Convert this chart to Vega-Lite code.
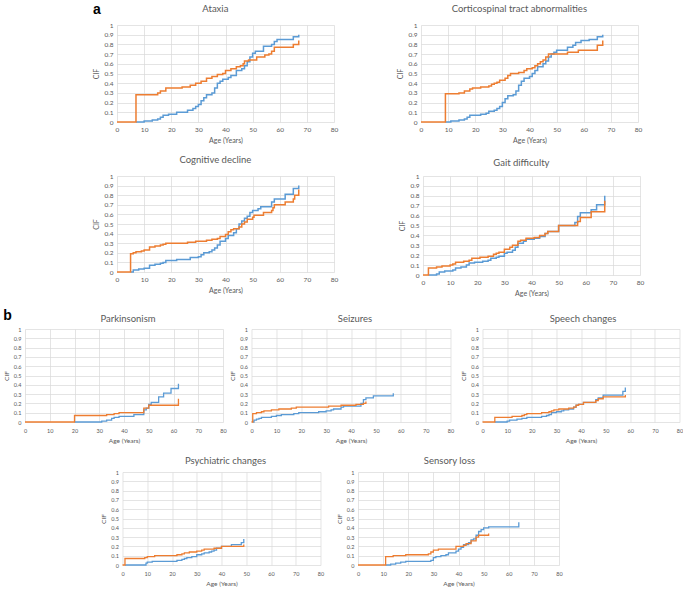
{
"$schema": "https://vega.github.io/schema/vega-lite/v6.json",
"padding": {"left": 3, "top": 2, "right": 0, "bottom": 0},
"config": {
  "font": "Lato",
  "view": {"stroke": null},
  "axis": {"grid": true, "gridColor": "#d9d9d9", "gridWidth": 0.7, "domain": false, "ticks": false, "labelColor": "#595959", "titleColor": "#595959", "titleFontWeight": "normal", "labelFlush": false, "labelOverlap": false},
  "title": {"fontSize": 9.5, "fontWeight": "normal", "color": "#595959", "anchor": "middle"}
},
"datasets": {
"ataxia": [
{"series":"Series 1","age":7,"cif":0},{"series":"Series 1","age":10,"cif":0.01},{"series":"Series 1","age":13,"cif":0.02},{"series":"Series 1","age":15,"cif":0.03},{"series":"Series 1","age":16,"cif":0.05},{"series":"Series 1","age":17,"cif":0.07},{"series":"Series 1","age":19,"cif":0.08},{"series":"Series 1","age":22,"cif":0.1},{"series":"Series 1","age":26,"cif":0.12},{"series":"Series 1","age":28,"cif":0.14},{"series":"Series 1","age":29,"cif":0.16},{"series":"Series 1","age":30,"cif":0.18},{"series":"Series 1","age":31,"cif":0.22},{"series":"Series 1","age":32,"cif":0.25},{"series":"Series 1","age":33,"cif":0.28},{"series":"Series 1","age":35,"cif":0.3},{"series":"Series 1","age":36,"cif":0.35},{"series":"Series 1","age":37,"cif":0.4},{"series":"Series 1","age":38,"cif":0.42},{"series":"Series 1","age":39,"cif":0.44},{"series":"Series 1","age":41,"cif":0.46},{"series":"Series 1","age":42,"cif":0.48},{"series":"Series 1","age":44,"cif":0.53},{"series":"Series 1","age":46,"cif":0.55},{"series":"Series 1","age":47,"cif":0.58},{"series":"Series 1","age":48,"cif":0.62},{"series":"Series 1","age":49,"cif":0.67},{"series":"Series 1","age":50,"cif":0.71},{"series":"Series 1","age":51,"cif":0.73},{"series":"Series 1","age":54,"cif":0.78},{"series":"Series 1","age":57,"cif":0.8},{"series":"Series 1","age":58,"cif":0.83},{"series":"Series 1","age":59,"cif":0.85},{"series":"Series 1","age":65,"cif":0.88},{"series":"Series 1","age":67,"cif":0.9},
{"series":"Series 2","age":0,"cif":0},{"series":"Series 2","age":7,"cif":0.28},{"series":"Series 2","age":15,"cif":0.3},{"series":"Series 2","age":16,"cif":0.32},{"series":"Series 2","age":18,"cif":0.35},{"series":"Series 2","age":24,"cif":0.36},{"series":"Series 2","age":27,"cif":0.38},{"series":"Series 2","age":29,"cif":0.4},{"series":"Series 2","age":31,"cif":0.42},{"series":"Series 2","age":33,"cif":0.45},{"series":"Series 2","age":35,"cif":0.47},{"series":"Series 2","age":37,"cif":0.49},{"series":"Series 2","age":39,"cif":0.5},{"series":"Series 2","age":40,"cif":0.53},{"series":"Series 2","age":42,"cif":0.55},{"series":"Series 2","age":44,"cif":0.57},{"series":"Series 2","age":45.5,"cif":0.58},{"series":"Series 2","age":46.5,"cif":0.6},{"series":"Series 2","age":47,"cif":0.63},{"series":"Series 2","age":48.5,"cif":0.64},{"series":"Series 2","age":51.5,"cif":0.67},{"series":"Series 2","age":54.5,"cif":0.69},{"series":"Series 2","age":56,"cif":0.7},{"series":"Series 2","age":57,"cif":0.73},{"series":"Series 2","age":58,"cif":0.77},{"series":"Series 2","age":65,"cif":0.8},{"series":"Series 2","age":67,"cif":0.84}
],
"cortico": [
{"series":"Series 1","age":9,"cif":0},{"series":"Series 1","age":11,"cif":0.01},{"series":"Series 1","age":14,"cif":0.02},{"series":"Series 1","age":16,"cif":0.03},{"series":"Series 1","age":17,"cif":0.05},{"series":"Series 1","age":18,"cif":0.07},{"series":"Series 1","age":22,"cif":0.08},{"series":"Series 1","age":24,"cif":0.09},{"series":"Series 1","age":25,"cif":0.11},{"series":"Series 1","age":27,"cif":0.12},{"series":"Series 1","age":28,"cif":0.14},{"series":"Series 1","age":29,"cif":0.16},{"series":"Series 1","age":30,"cif":0.2},{"series":"Series 1","age":31,"cif":0.24},{"series":"Series 1","age":32,"cif":0.27},{"series":"Series 1","age":34,"cif":0.28},{"series":"Series 1","age":35,"cif":0.32},{"series":"Series 1","age":36,"cif":0.38},{"series":"Series 1","age":37,"cif":0.42},{"series":"Series 1","age":38,"cif":0.45},{"series":"Series 1","age":40,"cif":0.47},{"series":"Series 1","age":41,"cif":0.5},{"series":"Series 1","age":42,"cif":0.53},{"series":"Series 1","age":43,"cif":0.57},{"series":"Series 1","age":45,"cif":0.6},{"series":"Series 1","age":46,"cif":0.63},{"series":"Series 1","age":47,"cif":0.67},{"series":"Series 1","age":48,"cif":0.7},{"series":"Series 1","age":49,"cif":0.72},{"series":"Series 1","age":50,"cif":0.74},{"series":"Series 1","age":54,"cif":0.77},{"series":"Series 1","age":56,"cif":0.79},{"series":"Series 1","age":57,"cif":0.82},{"series":"Series 1","age":59,"cif":0.84},{"series":"Series 1","age":62,"cif":0.85},{"series":"Series 1","age":65,"cif":0.88},{"series":"Series 1","age":67,"cif":0.9},
{"series":"Series 2","age":0,"cif":0},{"series":"Series 2","age":9,"cif":0.29},{"series":"Series 2","age":14,"cif":0.3},{"series":"Series 2","age":16,"cif":0.32},{"series":"Series 2","age":18,"cif":0.34},{"series":"Series 2","age":19,"cif":0.35},{"series":"Series 2","age":22,"cif":0.36},{"series":"Series 2","age":25,"cif":0.37},{"series":"Series 2","age":26,"cif":0.39},{"series":"Series 2","age":27,"cif":0.4},{"series":"Series 2","age":28,"cif":0.41},{"series":"Series 2","age":29,"cif":0.43},{"series":"Series 2","age":31,"cif":0.45},{"series":"Series 2","age":32,"cif":0.48},{"series":"Series 2","age":33,"cif":0.5},{"series":"Series 2","age":36,"cif":0.51},{"series":"Series 2","age":38,"cif":0.53},{"series":"Series 2","age":39,"cif":0.55},{"series":"Series 2","age":41,"cif":0.56},{"series":"Series 2","age":42,"cif":0.58},{"series":"Series 2","age":43,"cif":0.6},{"series":"Series 2","age":44,"cif":0.62},{"series":"Series 2","age":45,"cif":0.64},{"series":"Series 2","age":46,"cif":0.67},{"series":"Series 2","age":47,"cif":0.7},{"series":"Series 2","age":54,"cif":0.72},{"series":"Series 2","age":58,"cif":0.74},{"series":"Series 2","age":65,"cif":0.79},{"series":"Series 2","age":67,"cif":0.84}
],
"cognitive": [
{"series":"Series 1","age":5,"cif":0},{"series":"Series 1","age":6,"cif":0.02},{"series":"Series 1","age":8,"cif":0.03},{"series":"Series 1","age":10,"cif":0.04},{"series":"Series 1","age":12,"cif":0.07},{"series":"Series 1","age":14,"cif":0.08},{"series":"Series 1","age":16,"cif":0.09},{"series":"Series 1","age":17,"cif":0.1},{"series":"Series 1","age":18,"cif":0.12},{"series":"Series 1","age":22,"cif":0.13},{"series":"Series 1","age":27,"cif":0.15},{"series":"Series 1","age":30,"cif":0.16},{"series":"Series 1","age":31,"cif":0.18},{"series":"Series 1","age":32,"cif":0.2},{"series":"Series 1","age":34,"cif":0.21},{"series":"Series 1","age":35,"cif":0.23},{"series":"Series 1","age":36,"cif":0.25},{"series":"Series 1","age":37,"cif":0.28},{"series":"Series 1","age":38,"cif":0.32},{"series":"Series 1","age":40,"cif":0.35},{"series":"Series 1","age":41,"cif":0.38},{"series":"Series 1","age":43,"cif":0.41},{"series":"Series 1","age":44,"cif":0.45},{"series":"Series 1","age":45,"cif":0.5},{"series":"Series 1","age":46,"cif":0.53},{"series":"Series 1","age":47,"cif":0.56},{"series":"Series 1","age":48,"cif":0.58},{"series":"Series 1","age":49,"cif":0.62},{"series":"Series 1","age":50,"cif":0.64},{"series":"Series 1","age":52,"cif":0.66},{"series":"Series 1","age":53,"cif":0.68},{"series":"Series 1","age":57,"cif":0.73},{"series":"Series 1","age":58,"cif":0.76},{"series":"Series 1","age":62,"cif":0.81},{"series":"Series 1","age":65,"cif":0.87},{"series":"Series 1","age":67,"cif":0.9},
{"series":"Series 2","age":0,"cif":0},{"series":"Series 2","age":5,"cif":0.19},{"series":"Series 2","age":6,"cif":0.2},{"series":"Series 2","age":7,"cif":0.21},{"series":"Series 2","age":9,"cif":0.22},{"series":"Series 2","age":10,"cif":0.23},{"series":"Series 2","age":12,"cif":0.26},{"series":"Series 2","age":14,"cif":0.27},{"series":"Series 2","age":16,"cif":0.28},{"series":"Series 2","age":17,"cif":0.29},{"series":"Series 2","age":18,"cif":0.3},{"series":"Series 2","age":26,"cif":0.31},{"series":"Series 2","age":29,"cif":0.32},{"series":"Series 2","age":33,"cif":0.33},{"series":"Series 2","age":35,"cif":0.34},{"series":"Series 2","age":37,"cif":0.35},{"series":"Series 2","age":38,"cif":0.37},{"series":"Series 2","age":40,"cif":0.39},{"series":"Series 2","age":41,"cif":0.42},{"series":"Series 2","age":42,"cif":0.44},{"series":"Series 2","age":43,"cif":0.45},{"series":"Series 2","age":45,"cif":0.47},{"series":"Series 2","age":46,"cif":0.5},{"series":"Series 2","age":47,"cif":0.52},{"series":"Series 2","age":48,"cif":0.55},{"series":"Series 2","age":50,"cif":0.57},{"series":"Series 2","age":50.5,"cif":0.59},{"series":"Series 2","age":54,"cif":0.62},{"series":"Series 2","age":57,"cif":0.64},{"series":"Series 2","age":57.5,"cif":0.67},{"series":"Series 2","age":58,"cif":0.7},{"series":"Series 2","age":62,"cif":0.73},{"series":"Series 2","age":65,"cif":0.76},{"series":"Series 2","age":65.5,"cif":0.8},{"series":"Series 2","age":67,"cif":0.86}
],
"gait": [
{"series":"Series 1","age":2,"cif":0},{"series":"Series 1","age":5,"cif":0.01},{"series":"Series 1","age":6,"cif":0.03},{"series":"Series 1","age":8,"cif":0.04},{"series":"Series 1","age":11,"cif":0.05},{"series":"Series 1","age":12,"cif":0.07},{"series":"Series 1","age":14,"cif":0.08},{"series":"Series 1","age":16,"cif":0.1},{"series":"Series 1","age":17,"cif":0.12},{"series":"Series 1","age":19,"cif":0.13},{"series":"Series 1","age":22,"cif":0.14},{"series":"Series 1","age":24,"cif":0.15},{"series":"Series 1","age":25,"cif":0.17},{"series":"Series 1","age":27,"cif":0.18},{"series":"Series 1","age":28,"cif":0.19},{"series":"Series 1","age":30,"cif":0.22},{"series":"Series 1","age":31,"cif":0.23},{"series":"Series 1","age":33,"cif":0.25},{"series":"Series 1","age":34,"cif":0.28},{"series":"Series 1","age":35,"cif":0.32},{"series":"Series 1","age":37,"cif":0.34},{"series":"Series 1","age":38,"cif":0.36},{"series":"Series 1","age":41,"cif":0.37},{"series":"Series 1","age":43,"cif":0.39},{"series":"Series 1","age":45,"cif":0.42},{"series":"Series 1","age":46,"cif":0.44},{"series":"Series 1","age":50,"cif":0.5},{"series":"Series 1","age":56,"cif":0.53},{"series":"Series 1","age":57,"cif":0.59},{"series":"Series 1","age":58,"cif":0.63},{"series":"Series 1","age":62,"cif":0.66},{"series":"Series 1","age":64,"cif":0.71},{"series":"Series 1","age":67,"cif":0.8},
{"series":"Series 2","age":0,"cif":0},{"series":"Series 2","age":2,"cif":0.07},{"series":"Series 2","age":5,"cif":0.08},{"series":"Series 2","age":7,"cif":0.09},{"series":"Series 2","age":10,"cif":0.1},{"series":"Series 2","age":11,"cif":0.11},{"series":"Series 2","age":12,"cif":0.13},{"series":"Series 2","age":15,"cif":0.14},{"series":"Series 2","age":17,"cif":0.15},{"series":"Series 2","age":18,"cif":0.17},{"series":"Series 2","age":21,"cif":0.18},{"series":"Series 2","age":24,"cif":0.19},{"series":"Series 2","age":26,"cif":0.21},{"series":"Series 2","age":27,"cif":0.22},{"series":"Series 2","age":28,"cif":0.23},{"series":"Series 2","age":30,"cif":0.26},{"series":"Series 2","age":32,"cif":0.28},{"series":"Series 2","age":33,"cif":0.3},{"series":"Series 2","age":35,"cif":0.34},{"series":"Series 2","age":36,"cif":0.35},{"series":"Series 2","age":38,"cif":0.37},{"series":"Series 2","age":41,"cif":0.38},{"series":"Series 2","age":43,"cif":0.4},{"series":"Series 2","age":45,"cif":0.42},{"series":"Series 2","age":46,"cif":0.44},{"series":"Series 2","age":50,"cif":0.5},{"series":"Series 2","age":57,"cif":0.54},{"series":"Series 2","age":58,"cif":0.58},{"series":"Series 2","age":62,"cif":0.64},{"series":"Series 2","age":67,"cif":0.75}
],
"parkinsonism": [
{"series":"Series 1","age":20,"cif":0},{"series":"Series 1","age":31,"cif":0.01},{"series":"Series 1","age":33,"cif":0.02},{"series":"Series 1","age":35,"cif":0.04},{"series":"Series 1","age":36,"cif":0.05},{"series":"Series 1","age":38,"cif":0.06},{"series":"Series 1","age":44,"cif":0.08},{"series":"Series 1","age":48,"cif":0.13},{"series":"Series 1","age":49,"cif":0.15},{"series":"Series 1","age":50,"cif":0.19},{"series":"Series 1","age":51,"cif":0.21},{"series":"Series 1","age":54,"cif":0.27},{"series":"Series 1","age":56,"cif":0.31},{"series":"Series 1","age":59,"cif":0.36},{"series":"Series 1","age":62,"cif":0.41},
{"series":"Series 2","age":0,"cif":0},{"series":"Series 2","age":20,"cif":0.07},{"series":"Series 2","age":33,"cif":0.08},{"series":"Series 2","age":36,"cif":0.09},{"series":"Series 2","age":38,"cif":0.1},{"series":"Series 2","age":48,"cif":0.15},{"series":"Series 2","age":50,"cif":0.18},{"series":"Series 2","age":62,"cif":0.25}
],
"seizures": [
{"series":"Series 1","age":0.5,"cif":0},{"series":"Series 1","age":1,"cif":0.02},{"series":"Series 1","age":2,"cif":0.03},{"series":"Series 1","age":3,"cif":0.04},{"series":"Series 1","age":4,"cif":0.05},{"series":"Series 1","age":8,"cif":0.06},{"series":"Series 1","age":10,"cif":0.07},{"series":"Series 1","age":12,"cif":0.08},{"series":"Series 1","age":17,"cif":0.09},{"series":"Series 1","age":19,"cif":0.1},{"series":"Series 1","age":27,"cif":0.11},{"series":"Series 1","age":30,"cif":0.12},{"series":"Series 1","age":32,"cif":0.13},{"series":"Series 1","age":33,"cif":0.14},{"series":"Series 1","age":36,"cif":0.16},{"series":"Series 1","age":37,"cif":0.17},{"series":"Series 1","age":44,"cif":0.2},{"series":"Series 1","age":45,"cif":0.24},{"series":"Series 1","age":46,"cif":0.26},{"series":"Series 1","age":49,"cif":0.28},{"series":"Series 1","age":57,"cif":0.31},
{"series":"Series 2","age":0,"cif":0},{"series":"Series 2","age":0.5,"cif":0.09},{"series":"Series 2","age":2,"cif":0.1},{"series":"Series 2","age":4,"cif":0.11},{"series":"Series 2","age":5,"cif":0.12},{"series":"Series 2","age":8,"cif":0.13},{"series":"Series 2","age":11,"cif":0.14},{"series":"Series 2","age":16,"cif":0.15},{"series":"Series 2","age":18,"cif":0.16},{"series":"Series 2","age":31,"cif":0.17},{"series":"Series 2","age":36,"cif":0.18},{"series":"Series 2","age":42,"cif":0.19},{"series":"Series 2","age":45,"cif":0.2},{"series":"Series 2","age":46,"cif":0.22}
],
"speech": [
{"series":"Series 1","age":5,"cif":0},{"series":"Series 1","age":10,"cif":0.01},{"series":"Series 1","age":11,"cif":0.02},{"series":"Series 1","age":14,"cif":0.03},{"series":"Series 1","age":16,"cif":0.04},{"series":"Series 1","age":18,"cif":0.05},{"series":"Series 1","age":24,"cif":0.06},{"series":"Series 1","age":26,"cif":0.07},{"series":"Series 1","age":27,"cif":0.08},{"series":"Series 1","age":28,"cif":0.1},{"series":"Series 1","age":30,"cif":0.11},{"series":"Series 1","age":32,"cif":0.12},{"series":"Series 1","age":33,"cif":0.13},{"series":"Series 1","age":35,"cif":0.14},{"series":"Series 1","age":37,"cif":0.16},{"series":"Series 1","age":38,"cif":0.18},{"series":"Series 1","age":39,"cif":0.19},{"series":"Series 1","age":41,"cif":0.21},{"series":"Series 1","age":46,"cif":0.24},{"series":"Series 1","age":47,"cif":0.26},{"series":"Series 1","age":49,"cif":0.29},{"series":"Series 1","age":57,"cif":0.33},{"series":"Series 1","age":58,"cif":0.37},
{"series":"Series 2","age":0,"cif":0},{"series":"Series 2","age":5,"cif":0.05},{"series":"Series 2","age":12,"cif":0.06},{"series":"Series 2","age":16,"cif":0.07},{"series":"Series 2","age":17,"cif":0.08},{"series":"Series 2","age":18,"cif":0.09},{"series":"Series 2","age":24,"cif":0.1},{"series":"Series 2","age":27,"cif":0.11},{"series":"Series 2","age":28,"cif":0.12},{"series":"Series 2","age":29,"cif":0.13},{"series":"Series 2","age":31,"cif":0.14},{"series":"Series 2","age":35,"cif":0.15},{"series":"Series 2","age":37,"cif":0.16},{"series":"Series 2","age":38,"cif":0.18},{"series":"Series 2","age":39,"cif":0.19},{"series":"Series 2","age":41,"cif":0.21},{"series":"Series 2","age":46,"cif":0.23},{"series":"Series 2","age":47,"cif":0.25},{"series":"Series 2","age":49,"cif":0.27},{"series":"Series 2","age":58,"cif":0.29}
],
"psychiatric": [
{"series":"Series 1","age":1,"cif":0},{"series":"Series 1","age":9.5,"cif":0.02},{"series":"Series 1","age":10,"cif":0.03},{"series":"Series 1","age":12,"cif":0.04},{"series":"Series 1","age":22,"cif":0.05},{"series":"Series 1","age":24,"cif":0.06},{"series":"Series 1","age":25,"cif":0.07},{"series":"Series 1","age":26,"cif":0.08},{"series":"Series 1","age":28,"cif":0.09},{"series":"Series 1","age":30,"cif":0.11},{"series":"Series 1","age":32,"cif":0.12},{"series":"Series 1","age":33,"cif":0.13},{"series":"Series 1","age":35,"cif":0.14},{"series":"Series 1","age":36,"cif":0.15},{"series":"Series 1","age":37,"cif":0.16},{"series":"Series 1","age":38,"cif":0.18},{"series":"Series 1","age":40,"cif":0.2},{"series":"Series 1","age":44,"cif":0.22},{"series":"Series 1","age":48,"cif":0.24},{"series":"Series 1","age":49,"cif":0.28},
{"series":"Series 2","age":0,"cif":0},{"series":"Series 2","age":1,"cif":0.07},{"series":"Series 2","age":9,"cif":0.08},{"series":"Series 2","age":10,"cif":0.09},{"series":"Series 2","age":13,"cif":0.1},{"series":"Series 2","age":22,"cif":0.11},{"series":"Series 2","age":24,"cif":0.12},{"series":"Series 2","age":25,"cif":0.13},{"series":"Series 2","age":27,"cif":0.14},{"series":"Series 2","age":30,"cif":0.15},{"series":"Series 2","age":32,"cif":0.16},{"series":"Series 2","age":33,"cif":0.17},{"series":"Series 2","age":37,"cif":0.18},{"series":"Series 2","age":40,"cif":0.2},{"series":"Series 2","age":49,"cif":0.22}
],
"sensory": [
{"series":"Series 1","age":11,"cif":0},{"series":"Series 1","age":13,"cif":0.01},{"series":"Series 1","age":15,"cif":0.02},{"series":"Series 1","age":17,"cif":0.03},{"series":"Series 1","age":19,"cif":0.04},{"series":"Series 1","age":29,"cif":0.05},{"series":"Series 1","age":30,"cif":0.08},{"series":"Series 1","age":31,"cif":0.09},{"series":"Series 1","age":33,"cif":0.1},{"series":"Series 1","age":35,"cif":0.11},{"series":"Series 1","age":36,"cif":0.13},{"series":"Series 1","age":39,"cif":0.15},{"series":"Series 1","age":40,"cif":0.17},{"series":"Series 1","age":41,"cif":0.19},{"series":"Series 1","age":42,"cif":0.22},{"series":"Series 1","age":44,"cif":0.24},{"series":"Series 1","age":45,"cif":0.27},{"series":"Series 1","age":46,"cif":0.28},{"series":"Series 1","age":47,"cif":0.32},{"series":"Series 1","age":48,"cif":0.36},{"series":"Series 1","age":49,"cif":0.38},{"series":"Series 1","age":50,"cif":0.4},{"series":"Series 1","age":52,"cif":0.41},{"series":"Series 1","age":64,"cif":0.46},
{"series":"Series 2","age":0,"cif":0},{"series":"Series 2","age":11,"cif":0.09},{"series":"Series 2","age":14,"cif":0.1},{"series":"Series 2","age":19,"cif":0.11},{"series":"Series 2","age":28,"cif":0.12},{"series":"Series 2","age":29,"cif":0.14},{"series":"Series 2","age":30,"cif":0.16},{"series":"Series 2","age":32,"cif":0.17},{"series":"Series 2","age":39,"cif":0.2},{"series":"Series 2","age":42,"cif":0.21},{"series":"Series 2","age":43,"cif":0.23},{"series":"Series 2","age":45,"cif":0.26},{"series":"Series 2","age":47,"cif":0.3},{"series":"Series 2","age":48,"cif":0.32},{"series":"Series 2","age":52,"cif":0.34}
]
},
"spacing": 12,
"vconcat": [
{
 "spacing": 0,
 "hconcat": [
  {"width": 67, "height": 1, "data": {"values": []}, "mark": "point"},
  {
   "spacing": 11,
   "vconcat": [
    {
     "title": {"text": "a", "anchor": "start", "font": "Liberation Sans", "fontSize": 14, "fontWeight": "bold", "color": "#000000", "offset": 0, "dy": 13},
     "spacing": 58,
     "hconcat": [
      {"title": {"text": "Ataxia", "offset": 9, "frame": "bounds"}, "width": 217, "height": 97, "data": {"name": "ataxia"},
       "mark": {"type": "line", "interpolate": "step-after", "strokeWidth": 1.5},
       "encoding": {
        "x": {"field": "age", "type": "quantitative", "scale": {"domain": [0, 80]}, "axis": {"title": "Age (Years)", "values": [0,10,20,30,40,50,60,70,80], "labelFontSize": 6.5, "titleFontSize": 7, "labelPadding": 4.5, "titlePadding": 3}},
        "y": {"field": "cif", "type": "quantitative", "scale": {"domain": [0, 1]}, "axis": {"title": "CIF", "values": [0,0.1,0.2,0.3,0.4,0.5,0.6,0.7,0.8,0.9,1], "format": ".1~f", "labelFontSize": 6.5, "titleFontSize": 7, "labelPadding": 4, "titlePadding": 4}},
        "color": {"field": "series", "type": "nominal", "scale": {"domain": ["Series 1", "Series 2"], "range": ["#5B9BD5", "#ED7D31"]}, "legend": null}
       }},
      {"title": {"text": "Corticospinal tract abnormalities", "offset": 9, "frame": "bounds"}, "width": 217, "height": 97, "data": {"name": "cortico"},
       "mark": {"type": "line", "interpolate": "step-after", "strokeWidth": 1.5},
       "encoding": {
        "x": {"field": "age", "type": "quantitative", "scale": {"domain": [0, 80]}, "axis": {"title": "Age (Years)", "values": [0,10,20,30,40,50,60,70,80], "labelFontSize": 6.5, "titleFontSize": 7, "labelPadding": 4.5, "titlePadding": 3}},
        "y": {"field": "cif", "type": "quantitative", "scale": {"domain": [0, 1]}, "axis": {"title": "CIF", "values": [0,0.1,0.2,0.3,0.4,0.5,0.6,0.7,0.8,0.9,1], "format": ".1~f", "labelFontSize": 6.5, "titleFontSize": 7, "labelPadding": 4, "titlePadding": 4}},
        "color": {"field": "series", "type": "nominal", "scale": {"domain": ["Series 1", "Series 2"], "range": ["#5B9BD5", "#ED7D31"]}, "legend": null}
       }}
     ]
    },
    {
     "spacing": 60,
     "hconcat": [
      {"title": {"text": "Cognitive decline", "offset": 9, "frame": "bounds"}, "width": 217, "height": 96, "data": {"name": "cognitive"},
       "mark": {"type": "line", "interpolate": "step-after", "strokeWidth": 1.5},
       "encoding": {
        "x": {"field": "age", "type": "quantitative", "scale": {"domain": [0, 80]}, "axis": {"title": "Age (Years)", "values": [0,10,20,30,40,50,60,70,80], "labelFontSize": 6.5, "titleFontSize": 7, "labelPadding": 4.5, "titlePadding": 3}},
        "y": {"field": "cif", "type": "quantitative", "scale": {"domain": [0, 1]}, "axis": {"title": "CIF", "values": [0,0.1,0.2,0.3,0.4,0.5,0.6,0.7,0.8,0.9,1], "format": ".1~f", "labelFontSize": 6.5, "titleFontSize": 7, "labelPadding": 4, "titlePadding": 4}},
        "color": {"field": "series", "type": "nominal", "scale": {"domain": ["Series 1", "Series 2"], "range": ["#5B9BD5", "#ED7D31"]}, "legend": null}
       }},
      {"title": {"text": "Gait difficulty", "offset": 6, "frame": "bounds"}, "width": 217, "height": 99, "data": {"name": "gait"},
       "mark": {"type": "line", "interpolate": "step-after", "strokeWidth": 1.5},
       "encoding": {
        "x": {"field": "age", "type": "quantitative", "scale": {"domain": [0, 80]}, "axis": {"title": "Age (Years)", "values": [0,10,20,30,40,50,60,70,80], "labelFontSize": 6.5, "titleFontSize": 7, "labelPadding": 4.5, "titlePadding": 3}},
        "y": {"field": "cif", "type": "quantitative", "scale": {"domain": [0, 1]}, "axis": {"title": "CIF", "values": [0,0.1,0.2,0.3,0.4,0.5,0.6,0.7,0.8,0.9,1], "format": ".1~f", "labelFontSize": 6.5, "titleFontSize": 7, "labelPadding": 4, "titlePadding": 4}},
        "color": {"field": "series", "type": "nominal", "scale": {"domain": ["Series 1", "Series 2"], "range": ["#5B9BD5", "#ED7D31"]}, "legend": null}
       }}
     ]
    }
   ]
  }
 ]
},
{
 "spacing": 11,
 "vconcat": [
  {
   "title": {"text": "b", "anchor": "start", "font": "Liberation Sans", "fontSize": 14, "fontWeight": "bold", "color": "#000000", "offset": 0, "dy": 9},
   "spacing": 6.5,
   "hconcat": [
    {
     "spacing": 2.5,
     "hconcat": [
      {"title": {"text": "Parkinsonism", "offset": 4, "dx": 4}, "width": 198, "height": 93, "data": {"name": "parkinsonism"},
       "mark": {"type": "line", "interpolate": "step-after", "strokeWidth": 1.3},
       "encoding": {
        "x": {"field": "age", "type": "quantitative", "scale": {"domain": [0, 80]}, "axis": {"title": "Age (Years)", "values": [0,10,20,30,40,50,60,70,80], "labelFontSize": 5.5, "titleFontSize": 6.5, "labelPadding": 6, "titlePadding": 4}},
        "y": {"field": "cif", "type": "quantitative", "scale": {"domain": [0, 1]}, "axis": {"title": "CIF", "values": [0,0.1,0.2,0.3,0.4,0.5,0.6,0.7,0.8,0.9,1], "format": ".1~f", "labelFontSize": 5.5, "titleFontSize": 6.5, "labelPadding": 4, "titlePadding": 4}},
        "color": {"field": "series", "type": "nominal", "scale": {"domain": ["Series 1", "Series 2"], "range": ["#5B9BD5", "#ED7D31"]}, "legend": null}
       }},
      {"title": {"text": "Seizures", "offset": 4, "dx": 4}, "width": 199, "height": 93, "data": {"name": "seizures"},
       "mark": {"type": "line", "interpolate": "step-after", "strokeWidth": 1.3},
       "encoding": {
        "x": {"field": "age", "type": "quantitative", "scale": {"domain": [0, 80]}, "axis": {"title": "Age (Years)", "values": [0,10,20,30,40,50,60,70,80], "labelFontSize": 5.5, "titleFontSize": 6.5, "labelPadding": 6, "titlePadding": 4}},
        "y": {"field": "cif", "type": "quantitative", "scale": {"domain": [0, 1]}, "axis": {"title": "CIF", "values": [0,0.1,0.2,0.3,0.4,0.5,0.6,0.7,0.8,0.9,1], "format": ".1~f", "labelFontSize": 5.5, "titleFontSize": 6.5, "labelPadding": 4, "titlePadding": 4}},
        "color": {"field": "series", "type": "nominal", "scale": {"domain": ["Series 1", "Series 2"], "range": ["#5B9BD5", "#ED7D31"]}, "legend": null}
       }}
     ]
    },
    {"title": {"text": "Speech changes", "offset": 4, "dx": 2}, "width": 197, "height": 93, "data": {"name": "speech"},
     "mark": {"type": "line", "interpolate": "step-after", "strokeWidth": 1.3},
     "encoding": {
      "x": {"field": "age", "type": "quantitative", "scale": {"domain": [0, 80]}, "axis": {"title": "Age (Years)", "values": [0,10,20,30,40,50,60,70,80], "labelFontSize": 5.5, "titleFontSize": 6.5, "labelPadding": 6, "titlePadding": 4}},
      "y": {"field": "cif", "type": "quantitative", "scale": {"domain": [0, 1]}, "axis": {"title": "CIF", "values": [0,0.1,0.2,0.3,0.4,0.5,0.6,0.7,0.8,0.9,1], "format": ".1~f", "labelFontSize": 5.5, "titleFontSize": 6.5, "labelPadding": 4, "titlePadding": 4}},
      "color": {"field": "series", "type": "nominal", "scale": {"domain": ["Series 1", "Series 2"], "range": ["#5B9BD5", "#ED7D31"]}, "legend": null}
     }}
   ]
  },
  {
   "spacing": 11.5,
   "hconcat": [
    {"width": 63.5, "height": 1, "data": {"values": []}, "mark": "point"},
    {"title": {"text": "Psychiatric changes", "offset": 5, "dx": 4}, "width": 198, "height": 93, "data": {"name": "psychiatric"},
     "mark": {"type": "line", "interpolate": "step-after", "strokeWidth": 1.3},
     "encoding": {
      "x": {"field": "age", "type": "quantitative", "scale": {"domain": [0, 80]}, "axis": {"title": "Age (Years)", "values": [0,10,20,30,40,50,60,70,80], "labelFontSize": 5.5, "titleFontSize": 6.5, "labelPadding": 6, "titlePadding": 4}},
      "y": {"field": "cif", "type": "quantitative", "scale": {"domain": [0, 1]}, "axis": {"title": "CIF", "values": [0,0.1,0.2,0.3,0.4,0.5,0.6,0.7,0.8,0.9,1], "format": ".1~f", "labelFontSize": 5.5, "titleFontSize": 6.5, "labelPadding": 4, "titlePadding": 4}},
      "color": {"field": "series", "type": "nominal", "scale": {"domain": ["Series 1", "Series 2"], "range": ["#5B9BD5", "#ED7D31"]}, "legend": null}
     }},
    {"title": {"text": "Sensory loss", "offset": 5, "dx": -9}, "width": 201, "height": 93, "data": {"name": "sensory"},
     "mark": {"type": "line", "interpolate": "step-after", "strokeWidth": 1.3},
     "encoding": {
      "x": {"field": "age", "type": "quantitative", "scale": {"domain": [0, 80]}, "axis": {"title": "Age (Years)", "values": [0,10,20,30,40,50,60,70,80], "labelFontSize": 5.5, "titleFontSize": 6.5, "labelPadding": 6, "titlePadding": 4}},
      "y": {"field": "cif", "type": "quantitative", "scale": {"domain": [0, 1]}, "axis": {"title": "CIF", "values": [0,0.1,0.2,0.3,0.4,0.5,0.6,0.7,0.8,0.9,1], "format": ".1~f", "labelFontSize": 5.5, "titleFontSize": 6.5, "labelPadding": 4, "titlePadding": 4}},
      "color": {"field": "series", "type": "nominal", "scale": {"domain": ["Series 1", "Series 2"], "range": ["#5B9BD5", "#ED7D31"]}, "legend": null}
     }}
   ]
  }
 ]
}
]
}
